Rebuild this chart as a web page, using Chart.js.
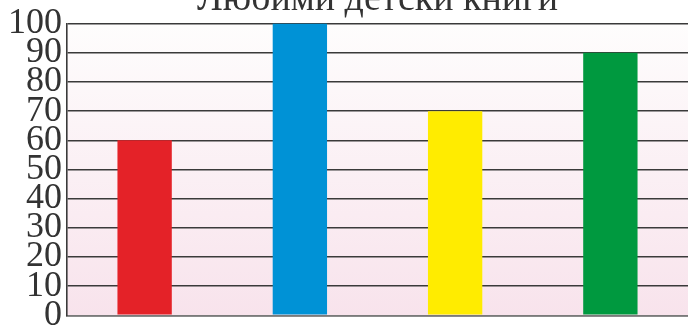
<!DOCTYPE html>
<html>
<head>
<meta charset="utf-8">
<script src="https://cdn.jsdelivr.net/npm/chart.js@4/dist/chart.umd.min.js"></script>
<style>
  html, body { margin: 0; padding: 0; width: 688px; height: 333px; overflow: hidden; background: #ffffff; }
  #wrap { position: absolute; left: 0; top: -24px; width: 688px; height: 366px; }
</style>
</head>
<body>
<div id="wrap"><canvas id="c"></canvas></div>
<script>
const titleText = "Любими детски книги";
const categories = ["Книга 1", "Книга 2", "Книга 3", "Книга 4"];
const values = [60, 100, 70, 90];
const barColors = ["#E42228", "#0092D6", "#FFEC00", "#00993F"];
const yTicks = [0, 10, 20, 30, 40, 50, 60, 70, 80, 90, 100];

const bgPlugin = {
  id: "areaGradient",
  beforeDraw(chart) {
    const { ctx, chartArea: a } = chart;
    const g = ctx.createLinearGradient(0, a.top, 0, a.bottom);
    g.addColorStop(0, "#FEFDFD");
    g.addColorStop(1, "#F8E3EC");
    ctx.save();
    ctx.fillStyle = g;
    ctx.fillRect(a.left, a.top, a.right - a.left, a.bottom - a.top);
    ctx.restore();
  }
};

new Chart(document.getElementById("c"), {
  type: "bar",
  data: {
    labels: categories,
    datasets: [{
      data: values,
      backgroundColor: barColors,
      borderWidth: 0,
      barPercentage: 0.35,
      categoryPercentage: 1.0
    }]
  },
  options: {
    responsive: true,
    maintainAspectRatio: false,
    animation: false,
    events: [],
    layout: { padding: { left: 3, right: 0, top: 0, bottom: 0 } },
    plugins: {
      legend: { display: false },
      tooltip: { enabled: false },
      title: {
        display: true,
        fullSize: false,
        text: titleText,
        color: "#333333",
        font: { family: "'Liberation Serif', 'DejaVu Serif', serif", size: 38, weight: "normal" },
        padding: { top: 1, bottom: 1 }
      }
    },
    scales: {
      x: {
        ticks: { display: false },
        grid: { display: false, drawTicks: false },
        border: { display: true, color: "#7a7a7a", width: 1.5 }
      },
      y: {
        min: 0,
        max: 100,
        afterBuildTicks(scale) { scale.ticks = yTicks.map(v => ({ value: v })); },
        ticks: {
          autoSkip: false,
          padding: 5,
          color: "#333333",
          font: { family: "'Liberation Serif', 'DejaVu Serif', serif", size: 36 }
        },
        grid: { color: "#3a3a3a", lineWidth: 1.6, drawTicks: false },
        border: { display: true, color: "#3a3a3a", width: 1.6 }
      }
    }
  },
  plugins: [bgPlugin]
});
</script>
</body>
</html>
